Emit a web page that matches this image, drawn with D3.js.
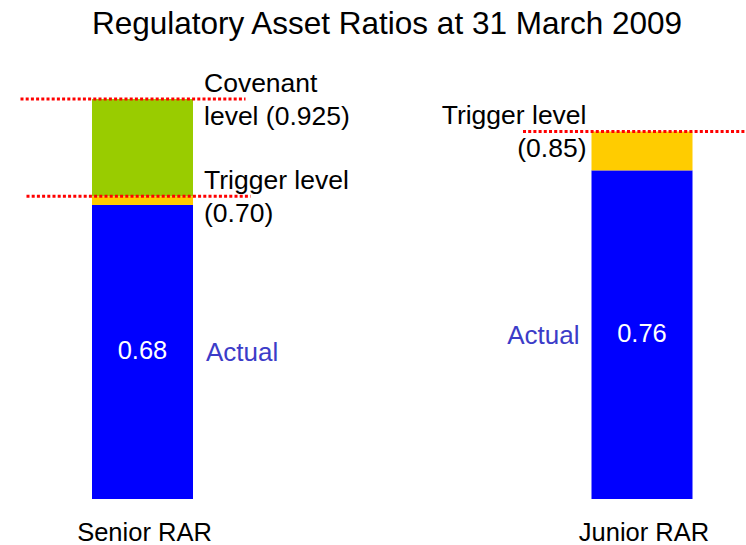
<!DOCTYPE html>
<html>
<head>
<meta charset="utf-8">
<script src="https://cdn.jsdelivr.net/npm/d3@7"></script>
<style>
  body { margin: 0; background: #fff; }
  svg text { font-family: 'Liberation Sans', Arial, sans-serif; }
</style>
</head>
<body>
<div id="plot"></div>
<script>
var categories = ['Senior RAR', 'Junior RAR'];
var actual = [0.68, 0.76];
var trigger = [0.70, 0.85];
var covenant = [0.925, null];
var triggerLabels = [['Trigger level', '(0.70)'], ['Trigger level', '(0.85)']];
var covenantLabels = [['Covenant', 'level (0.925)'], null];
var valueLabels = ['0.68', '0.76'];
var title = 'Regulatory Asset Ratios at 31 March 2009';

var rar = {};

rar.init = function() {

  var W = 746, H = 545;
  var barw = 101;

  var svg = d3.select('#plot').append('svg')
    .attr('width', W)
    .attr('height', H);

  rar.xscale = d3.scalePoint().domain(categories).range([142.5, 642]);
  rar.yscale = d3.scaleLinear().domain([0, 1]).range([499, 66.6]);

  var x = rar.xscale, y = rar.yscale;

  // stacked pieces: actual, actual->trigger, trigger->covenant
  var segs = [];
  categories.forEach(function(c, i) {
    segs.push({cat: c, y0: 0, y1: actual[i], fill: '#0000ff'});
    segs.push({cat: c, y0: actual[i], y1: trigger[i], fill: '#ffcc00'});
    if ( covenant[i] != null ) {
      segs.push({cat: c, y0: trigger[i], y1: covenant[i], fill: '#99cc00'});
    }
  });

  svg.selectAll('rect.seg').data(segs).enter()
    .append('rect')
      .attr('class', 'seg')
      .attr('x', function(d) {return x(d.cat) - barw/2;})
      .attr('y', function(d) {return y(d.y1);})
      .attr('width', barw)
      .attr('height', function(d) {return y(d.y0) - y(d.y1);})
      .attr('fill', function(d) {return d.fill;});

  // dotted level lines
  var lines = [];
  categories.forEach(function(c, i) {
    if ( covenant[i] != null ) lines.push({cat: c, v: covenant[i], l: -122, r: 103});
    lines.push({cat: c, v: trigger[i], l: i == 0 ? -116 : -119, r: i == 0 ? 108 : 104});
  });

  svg.selectAll('line.level').data(lines).enter()
    .append('line')
      .attr('class', 'level')
      .attr('x1', function(d) {return x(d.cat) + d.l;})
      .attr('x2', function(d) {return x(d.cat) + d.r;})
      .attr('y1', function(d) {return y(d.v);})
      .attr('y2', function(d) {return y(d.v);})
      .attr('stroke', '#ff0000')
      .attr('stroke-width', 3)
      .attr('stroke-dasharray', '3,2.2');

  // level annotations (senior to the right, junior to the left)
  var notes = [];
  categories.forEach(function(c, i) {
    if ( covenantLabels[i] ) notes.push({cat: c, v: covenant[i], t: covenantLabels[i], side: i});
    notes.push({cat: c, v: trigger[i], t: triggerLabels[i], side: i});
  });

  notes.forEach(function(n) {
    var tx = n.side == 0 ? x(n.cat) + barw/2 + 11 : x(n.cat) - barw/2 - 5;
    n.t.forEach(function(s, k) {
      svg.append('text')
        .attr('x', tx)
        .attr('y', y(n.v) - 7 + k*33)
        .attr('text-anchor', n.side == 0 ? 'start' : 'end')
        .attr('font-size', 26.5)
        .attr('fill', '#000')
        .text(s);
    });
  });

  // value inside the blue bar and 'Actual' beside it
  categories.forEach(function(c, i) {
    var my = y(actual[i]/2) + 7;
    svg.append('text')
      .attr('x', x(c))
      .attr('y', my)
      .attr('text-anchor', 'middle')
      .attr('font-size', 25.5)
      .attr('fill', '#fff')
      .text(valueLabels[i]);
    svg.append('text')
      .attr('x', i == 0 ? x(c) + barw/2 + 13 : x(c) - barw/2 - 12)
      .attr('y', my + 2)
      .attr('text-anchor', i == 0 ? 'start' : 'end')
      .attr('font-size', 26)
      .attr('fill', '#3c3cc8')
      .text('Actual');
  });

  // category labels
  svg.append('g').selectAll('text').data(categories).enter()
    .append('text')
      .attr('x', function(d) {return x(d) + 2;})
      .attr('y', 541)
      .attr('text-anchor', 'middle')
      .attr('font-size', 25.5)
      .attr('fill', '#000')
      .text(function(d) {return d;});

  svg.append('text')
    .attr('x', 387)
    .attr('y', 34)
    .attr('text-anchor', 'middle')
    .attr('font-size', 31.5)
    .attr('fill', '#000')
    .text(title);

};

rar.init();
</script>
</body>
</html>
